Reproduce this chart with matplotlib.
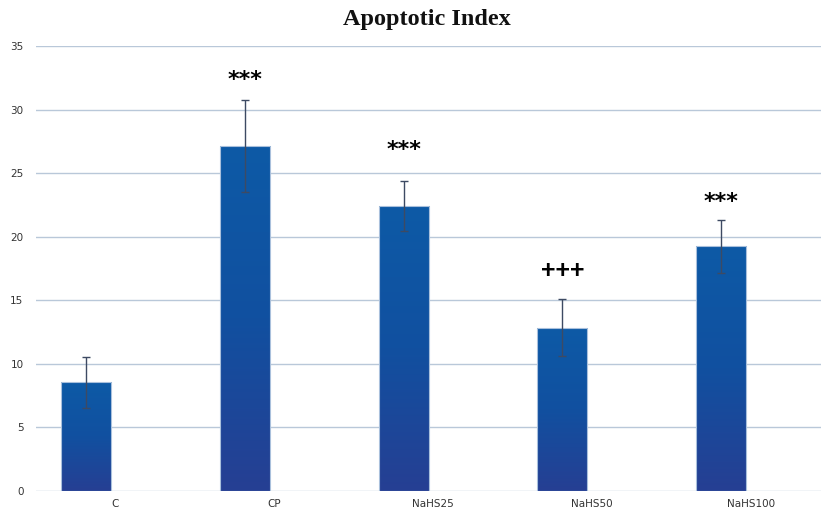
import numpy as np
import matplotlib
matplotlib.use("Agg")
import matplotlib.pyplot as plt
from matplotlib.colors import LinearSegmentedColormap

# data
groups = ["C", "CP", "NaHS25", "NaHS50", "NaHS100"]
means = [8.55, 27.15, 22.4, 12.85, 19.25]
errs = [2.0, 3.6, 1.95, 2.27, 2.1]
marks = ["", "***", "***", "+++", "***"]
mark_y = [None, 32.3, 26.8, 17.3, 22.7]

fig = plt.figure(figsize=(8.21, 5.15), dpi=100)
# axes runs a bit past the right edge, like the source chart
ax = fig.add_axes([36 / 821, 24 / 515, 794 / 821, 445 / 515])

x = np.arange(len(groups))
offset = -0.185
width = 0.315

cmap = LinearSegmentedColormap.from_list("bar", ["#263f93", "#1150a0", "#0d5aa6"])
grad = np.linspace(0, 1, 256).reshape(-1, 1)

bars = ax.bar(x + offset, means, width, color="none", edgecolor="#a9c0dc",
              linewidth=0.8, zorder=3)
for b in bars:
    im = ax.imshow(grad, cmap=cmap, origin="lower", aspect="auto",
                   extent=[b.get_x(), b.get_x() + b.get_width(), 0, b.get_height()],
                   zorder=2)
    im.set_clip_path(b)

ax.errorbar(x + offset, means, yerr=errs, fmt="none", ecolor="#3d4a63",
            elinewidth=1.0, capsize=3, capthick=1.0, zorder=4)

for i, m in enumerate(marks):
    if m == "+++":
        ax.text(x[i] + offset, mark_y[i], m, ha="center", va="center",
                fontsize=18, fontweight="bold", family="Liberation Sans",
                color="black", zorder=5)
    elif m:
        ax.text(x[i] + offset, mark_y[i], m, ha="center", va="center",
                fontsize=16, fontweight="bold", color="black", zorder=5)

ax.set_xlim(-0.5, len(groups) - 0.5)
ax.set_ylim(0, 35)
ax.set_yticks(np.arange(0, 36, 5))
ax.set_xticks(x)
ax.set_xticklabels(groups)
ax.tick_params(axis="both", length=0, labelsize=7.5, colors="#333333")
ax.tick_params(axis="y", pad=9)
ax.tick_params(axis="x", pad=6)
ax.yaxis.grid(True, color="#b9c8d9", linewidth=1.0, zorder=0)
ax.set_axisbelow(True)
for s in ax.spines.values():
    s.set_visible(False)

fig.text(427 / 821, 1 - 20 / 515, "Apoptotic Index", ha="center", va="center",
         fontsize=17.5, fontweight="bold", family="Liberation Serif", color="#111111")

fig.savefig("out.png", dpi=100)
